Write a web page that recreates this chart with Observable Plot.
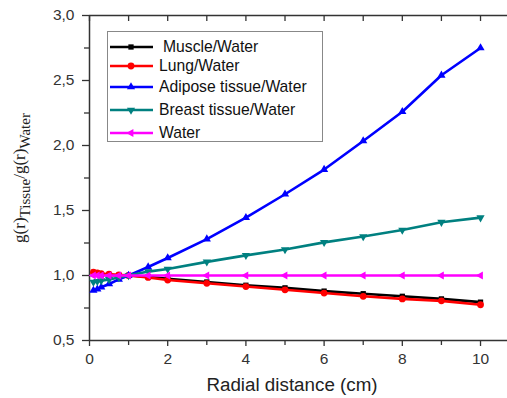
<!DOCTYPE html>
<html><head><meta charset="utf-8">
<script src="https://cdn.jsdelivr.net/npm/d3@7"></script>
<script src="https://cdn.jsdelivr.net/npm/@observablehq/plot@0.6"></script>
<style>
body{margin:0;background:#fff;font-family:"Liberation Sans",Arial,sans-serif;}
#wrap{position:relative;width:507px;height:398px;overflow:hidden;}
#ylab{position:absolute;left:22px;top:178px;transform:translate(-50%,-50%) rotate(-90deg);font-family:"Liberation Serif","Times New Roman",serif;font-size:17px;white-space:nowrap;color:#222;line-height:1;}
#ylab sub{font-size:15px;vertical-align:-5px;line-height:1;}
#xlab{position:absolute;left:292px;top:385px;transform:translate(-50%,-50%);font-size:18.8px;white-space:nowrap;color:#222;}
#legend{position:absolute;left:107px;top:31px;width:216px;height:111px;border:1px solid #888;box-sizing:border-box;background:#fff;}
.row{position:absolute;left:1px;height:20px;display:flex;align-items:center;font-size:15.7px;color:#111;white-space:nowrap;}
.row svg{margin-right:5px;}
</style></head>
<body><div id="wrap"></div>
<script>
const radius = [0.1, 0.2, 0.3, 0.5, 0.75, 1, 1.5, 2, 3, 4, 5, 6, 7, 8, 9, 10];
const muscle   = [1.01, 1.01, 1.005, 1.005, 1.0, 1.0, 0.99, 0.975, 0.95, 0.925, 0.905, 0.88, 0.86, 0.84, 0.82, 0.795];
const lung     = [1.025, 1.02, 1.015, 1.01, 1.005, 1.0, 0.985, 0.965, 0.94, 0.915, 0.89, 0.865, 0.84, 0.82, 0.805, 0.775];
const adipose  = [0.885, 0.895, 0.91, 0.935, 0.97, 1.0, 1.065, 1.135, 1.28, 1.445, 1.625, 1.815, 2.035, 2.26, 2.54, 2.75];
const breast   = [0.95, 0.955, 0.96, 0.97, 0.985, 1.0, 1.03, 1.05, 1.105, 1.155, 1.2, 1.255, 1.3, 1.35, 1.41, 1.445];
const water    = [1, 1, 1, 1, 1, 1, 1, 1, 1, 1, 1, 1, 1, 1, 1, 1];
const seriesNames = ["Muscle/Water", "Lung/Water", "Adipose tissue/Water", "Breast tissue/Water", "Water"];
const seriesValues = [muscle, lung, adipose, breast, water];
const seriesColors = ["#000000", "#ff0000", "#0000ff", "#008080", "#ff00ff"];
const xMajor = [0, 2, 4, 6, 8, 10];
const xMinor = [1, 3, 5, 7, 9];
const xTop = [0, 1, 2, 3, 4, 5, 6, 7, 8, 9, 10];
const yMajor = [0.5, 1.0, 1.5, 2.0, 2.5, 3.0];
const yMinor = [0.75, 1.25, 1.75, 2.25, 2.75];

function tri(angle){
  return {draw(ctx, size){
    const r = Math.sqrt(size) * 0.75;
    for(let i=0;i<3;i++){
      const a = angle + i*2*Math.PI/3;
      const px = r*Math.cos(a), py = r*Math.sin(a);
      if(i===0) ctx.moveTo(px,py); else ctx.lineTo(px,py);
    }
    ctx.closePath();
  }};
}
const symbols = ["square", "circle", tri(-Math.PI/2), tri(Math.PI/2), tri(Math.PI)];
const sizes = [28, 36, 40, 40, 40];

const table = [];
seriesNames.forEach((name, si) => radius.forEach((r, i) => table.push({series: name, si, r, v: seriesValues[si][i]})));

const fmt = d => d.toFixed(1).replace(".", ",");
const axisColor = "#333";

const marks = [
  Plot.ruleY([0.5], {stroke: axisColor, strokeWidth: 1.5}),
  Plot.ruleY([3.0], {stroke: axisColor, strokeWidth: 1.5}),
  Plot.ruleX([0], {stroke: axisColor, strokeWidth: 1.5}),
  Plot.axisY({ticks: yMajor, tickFormat: fmt, tickSize: 7, tickPadding: 8, fontSize: 15.5, label: null, color: axisColor, strokeWidth: 1.3}),
  Plot.axisY({ticks: yMinor, tickFormat: () => "", tickSize: 5, label: null, color: axisColor, strokeWidth: 1.3}),
  Plot.axisX({ticks: xMajor, tickFormat: d => String(d), tickSize: 6, tickPadding: 6, fontSize: 15.5, label: null, color: axisColor, strokeWidth: 1.3}),
  Plot.axisX({ticks: xMinor, tickFormat: () => "", tickSize: 5, label: null, color: axisColor, strokeWidth: 1.3}),
  Plot.axisX({anchor: "top", ticks: xTop, tickFormat: () => "", tickSize: -5, label: null, color: axisColor, strokeWidth: 1.3})
];
seriesNames.forEach((name, si) => {
  const d = table.filter(t => t.si === si);
  marks.push(Plot.line(d, {x: "r", y: "v", stroke: seriesColors[si], strokeWidth: 2.6}));
  marks.push(Plot.dot(d, {x: "r", y: "v", fill: seriesColors[si], stroke: "none", symbol: () => symbols[si], r: Math.sqrt(sizes[si]/Math.PI)}));
});

const chart = Plot.plot({
  width: 507, height: 398,
  marginLeft: 89, marginRight: 0, marginTop: 15, marginBottom: 58,
  style: {fontFamily: "'Liberation Sans', Arial, sans-serif", background: "transparent"},
  x: {domain: [0, 10.69]},
  y: {domain: [0.5, 3.0]},
  symbol: {type: "identity"},
  marks
});
const wrap = document.getElementById("wrap");
wrap.appendChild(chart);

const yl = document.createElement("div"); yl.id = "ylab";
yl.innerHTML = "g(r)<sub>Tissue</sub>/g(r)<sub>Water</sub>";
wrap.appendChild(yl);
const xl = document.createElement("div"); xl.id = "xlab"; xl.textContent = "Radial distance (cm)";
wrap.appendChild(xl);

const leg = document.createElement("div"); leg.id = "legend";
const rowTops = [5, 24, 45, 68, 91];
seriesNames.forEach((name, si) => {
  const row = document.createElement("div"); row.className = "row"; row.style.top = rowTops[si] + "px";
  const s = d3.create("svg").attr("width", 45).attr("height", 20);
  s.append("line").attr("x1", 1).attr("x2", 44).attr("y1", 10).attr("y2", 10).attr("stroke", seriesColors[si]).attr("stroke-width", 2.6);
  const sym = typeof symbols[si] === "string" ? (symbols[si] === "square" ? d3.symbolSquare : d3.symbolCircle) : symbols[si];
  s.append("path").attr("transform", "translate(22,10)").attr("d", d3.symbol(sym, sizes[si])()).attr("fill", seriesColors[si]);
  row.appendChild(s.node());
  const t = document.createElement("span"); t.textContent = name;
  if (si === 0) t.style.marginLeft = "4px";
  row.appendChild(t);
  leg.appendChild(row);
});
wrap.appendChild(leg);
</script></body></html>
